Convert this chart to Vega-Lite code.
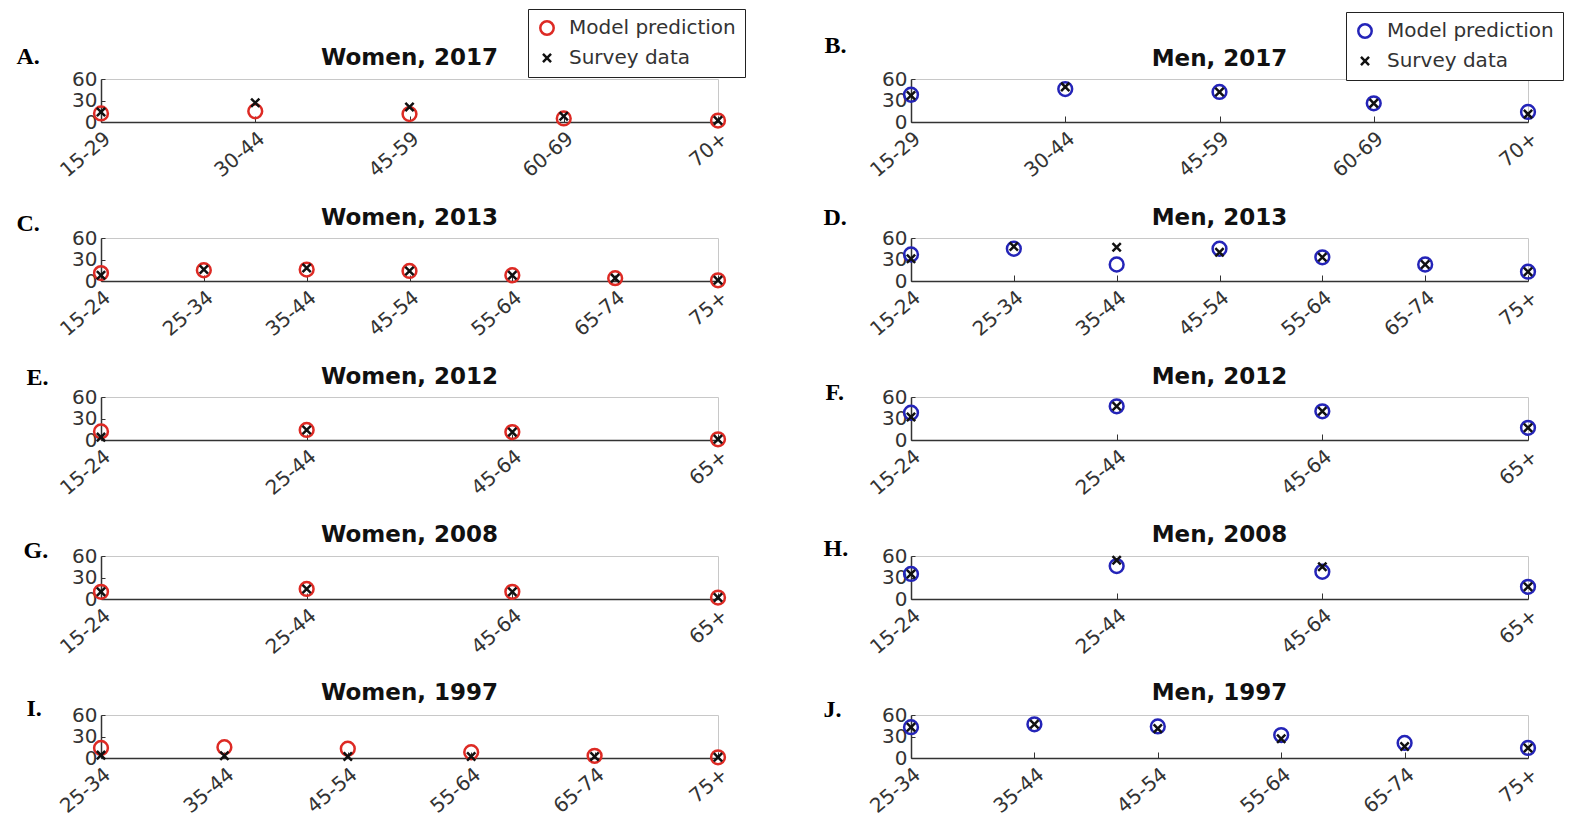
{
  "$schema": "https://vega.github.io/schema/vega-lite/v6.json",
  "padding": {"left": 15, "top": 8, "right": 5, "bottom": 5},
  "background": "white",
  "config": {
    "view": {"stroke": "#c8c8c8"},
    "font": "DejaVu Sans",
    "title": {"font": "DejaVu Sans", "fontSize": 23, "fontWeight": "bold", "color": "#111", "offset": 8},
    "axis": {
      "labelFont": "DejaVu Sans",
      "labelColor": "#333",
      "domainColor": "#333",
      "domainWidth": 1.5,
      "tickColor": "#333",
      "grid": false
    },
    "axisX": {"labelAngle": -40, "labelFontSize": 20, "labelAlign": "right", "labelBaseline": "top", "tickSize": -6, "labelPadding": 12, "labelOverlap": false},
    "axisY": {
      "labelFontSize": 20,
      "labelOverlap": false,
      "tickSize": -4,
      "labelPadding": 8,
      "titleFont": "Liberation Serif",
      "titleFontSize": 24,
      "titleFontWeight": "bold",
      "titleColor": "black",
      "titleAngle": 0,
      "titleAlign": "left",
      "titleBaseline": "middle"
    },
    "legend": {
      "labelFont": "DejaVu Sans",
      "labelFontSize": 20,
      "labelColor": "#333",
      "labelLimit": 300,
      "strokeColor": "#222",
      "fillColor": "white",
      "padding": 9,
      "rowPadding": 8,
      "symbolStrokeWidth": 2.5,
      "symbolSize": 180,
      "symbolOpacity": 1,
      "labelOffset": 12
    },
    "point": {"filled": false, "strokeWidth": 2.5, "size": 190, "opacity": 1}
  },
  "datasets": {
    "pts": [
      {"panel": "A", "age": "15-29", "series": "Model prediction", "value": 12},
      {"panel": "A", "age": "30-44", "series": "Model prediction", "value": 15},
      {"panel": "A", "age": "45-59", "series": "Model prediction", "value": 11},
      {"panel": "A", "age": "60-69", "series": "Model prediction", "value": 5},
      {"panel": "A", "age": "70+", "series": "Model prediction", "value": 2},
      {"panel": "A", "age": "15-29", "series": "Survey data", "value": 14},
      {"panel": "A", "age": "30-44", "series": "Survey data", "value": 27},
      {"panel": "A", "age": "45-59", "series": "Survey data", "value": 21},
      {"panel": "A", "age": "60-69", "series": "Survey data", "value": 8},
      {"panel": "A", "age": "70+", "series": "Survey data", "value": 2},

      {"panel": "B", "age": "15-29", "series": "Model prediction", "value": 38},
      {"panel": "B", "age": "30-44", "series": "Model prediction", "value": 46},
      {"panel": "B", "age": "45-59", "series": "Model prediction", "value": 42},
      {"panel": "B", "age": "60-69", "series": "Model prediction", "value": 26},
      {"panel": "B", "age": "70+", "series": "Model prediction", "value": 14},
      {"panel": "B", "age": "15-29", "series": "Survey data", "value": 37},
      {"panel": "B", "age": "30-44", "series": "Survey data", "value": 49},
      {"panel": "B", "age": "45-59", "series": "Survey data", "value": 42},
      {"panel": "B", "age": "60-69", "series": "Survey data", "value": 26},
      {"panel": "B", "age": "70+", "series": "Survey data", "value": 11},

      {"panel": "C", "age": "15-24", "series": "Model prediction", "value": 11},
      {"panel": "C", "age": "25-34", "series": "Model prediction", "value": 15},
      {"panel": "C", "age": "35-44", "series": "Model prediction", "value": 16},
      {"panel": "C", "age": "45-54", "series": "Model prediction", "value": 14},
      {"panel": "C", "age": "55-64", "series": "Model prediction", "value": 8},
      {"panel": "C", "age": "65-74", "series": "Model prediction", "value": 4},
      {"panel": "C", "age": "75+", "series": "Model prediction", "value": 1},
      {"panel": "C", "age": "15-24", "series": "Survey data", "value": 8},
      {"panel": "C", "age": "25-34", "series": "Survey data", "value": 16},
      {"panel": "C", "age": "35-44", "series": "Survey data", "value": 18},
      {"panel": "C", "age": "45-54", "series": "Survey data", "value": 14},
      {"panel": "C", "age": "55-64", "series": "Survey data", "value": 8},
      {"panel": "C", "age": "65-74", "series": "Survey data", "value": 4},
      {"panel": "C", "age": "75+", "series": "Survey data", "value": 1},

      {"panel": "D", "age": "15-24", "series": "Model prediction", "value": 37},
      {"panel": "D", "age": "25-34", "series": "Model prediction", "value": 45},
      {"panel": "D", "age": "35-44", "series": "Model prediction", "value": 23},
      {"panel": "D", "age": "45-54", "series": "Model prediction", "value": 45},
      {"panel": "D", "age": "55-64", "series": "Model prediction", "value": 33},
      {"panel": "D", "age": "65-74", "series": "Model prediction", "value": 23},
      {"panel": "D", "age": "75+", "series": "Model prediction", "value": 13},
      {"panel": "D", "age": "15-24", "series": "Survey data", "value": 31},
      {"panel": "D", "age": "25-34", "series": "Survey data", "value": 48},
      {"panel": "D", "age": "35-44", "series": "Survey data", "value": 47},
      {"panel": "D", "age": "45-54", "series": "Survey data", "value": 40},
      {"panel": "D", "age": "55-64", "series": "Survey data", "value": 33},
      {"panel": "D", "age": "65-74", "series": "Survey data", "value": 23},
      {"panel": "D", "age": "75+", "series": "Survey data", "value": 13},

      {"panel": "E", "age": "15-24", "series": "Model prediction", "value": 12},
      {"panel": "E", "age": "25-44", "series": "Model prediction", "value": 14},
      {"panel": "E", "age": "45-64", "series": "Model prediction", "value": 11},
      {"panel": "E", "age": "65+", "series": "Model prediction", "value": 1},
      {"panel": "E", "age": "15-24", "series": "Survey data", "value": 4},
      {"panel": "E", "age": "25-44", "series": "Survey data", "value": 14},
      {"panel": "E", "age": "45-64", "series": "Survey data", "value": 11},
      {"panel": "E", "age": "65+", "series": "Survey data", "value": 1},

      {"panel": "F", "age": "15-24", "series": "Model prediction", "value": 38},
      {"panel": "F", "age": "25-44", "series": "Model prediction", "value": 47},
      {"panel": "F", "age": "45-64", "series": "Model prediction", "value": 40},
      {"panel": "F", "age": "65+", "series": "Model prediction", "value": 17},
      {"panel": "F", "age": "15-24", "series": "Survey data", "value": 32},
      {"panel": "F", "age": "25-44", "series": "Survey data", "value": 47},
      {"panel": "F", "age": "45-64", "series": "Survey data", "value": 40},
      {"panel": "F", "age": "65+", "series": "Survey data", "value": 17},

      {"panel": "G", "age": "15-24", "series": "Model prediction", "value": 10},
      {"panel": "G", "age": "25-44", "series": "Model prediction", "value": 14},
      {"panel": "G", "age": "45-64", "series": "Model prediction", "value": 10},
      {"panel": "G", "age": "65+", "series": "Model prediction", "value": 2},
      {"panel": "G", "age": "15-24", "series": "Survey data", "value": 10},
      {"panel": "G", "age": "25-44", "series": "Survey data", "value": 14},
      {"panel": "G", "age": "45-64", "series": "Survey data", "value": 10},
      {"panel": "G", "age": "65+", "series": "Survey data", "value": 2},

      {"panel": "H", "age": "15-24", "series": "Model prediction", "value": 35},
      {"panel": "H", "age": "25-44", "series": "Model prediction", "value": 46},
      {"panel": "H", "age": "45-64", "series": "Model prediction", "value": 38},
      {"panel": "H", "age": "65+", "series": "Model prediction", "value": 17},
      {"panel": "H", "age": "15-24", "series": "Survey data", "value": 35},
      {"panel": "H", "age": "25-44", "series": "Survey data", "value": 54},
      {"panel": "H", "age": "45-64", "series": "Survey data", "value": 45},
      {"panel": "H", "age": "65+", "series": "Survey data", "value": 17},

      {"panel": "I", "age": "25-34", "series": "Model prediction", "value": 14},
      {"panel": "I", "age": "35-44", "series": "Model prediction", "value": 15},
      {"panel": "I", "age": "45-54", "series": "Model prediction", "value": 13},
      {"panel": "I", "age": "55-64", "series": "Model prediction", "value": 8},
      {"panel": "I", "age": "65-74", "series": "Model prediction", "value": 3},
      {"panel": "I", "age": "75+", "series": "Model prediction", "value": 1},
      {"panel": "I", "age": "25-34", "series": "Survey data", "value": 4},
      {"panel": "I", "age": "35-44", "series": "Survey data", "value": 3},
      {"panel": "I", "age": "45-54", "series": "Survey data", "value": 2},
      {"panel": "I", "age": "55-64", "series": "Survey data", "value": 2},
      {"panel": "I", "age": "65-74", "series": "Survey data", "value": 2},
      {"panel": "I", "age": "75+", "series": "Survey data", "value": 1},

      {"panel": "J", "age": "25-34", "series": "Model prediction", "value": 43},
      {"panel": "J", "age": "35-44", "series": "Model prediction", "value": 47},
      {"panel": "J", "age": "45-54", "series": "Model prediction", "value": 44},
      {"panel": "J", "age": "55-64", "series": "Model prediction", "value": 32},
      {"panel": "J", "age": "65-74", "series": "Model prediction", "value": 21},
      {"panel": "J", "age": "75+", "series": "Model prediction", "value": 14},
      {"panel": "J", "age": "25-34", "series": "Survey data", "value": 43},
      {"panel": "J", "age": "35-44", "series": "Survey data", "value": 47},
      {"panel": "J", "age": "45-54", "series": "Survey data", "value": 41},
      {"panel": "J", "age": "55-64", "series": "Survey data", "value": 27},
      {"panel": "J", "age": "65-74", "series": "Survey data", "value": 16},
      {"panel": "J", "age": "75+", "series": "Survey data", "value": 14}
    ]
  },
  "data": {"name": "pts"},
  "columns": 2,
  "spacing": {"row": 116, "column": 193},
  "bounds": "flush",
  "resolve": {
    "scale": {"x": "independent", "y": "independent", "color": "independent", "shape": "independent"},
    "legend": {"color": "independent", "shape": "independent"}
  },
  "concat": [
    {
      "title": {"text": "Women, 2017", "dy": 69},
      "width": 617, "height": 43,
      "transform": [{"filter": "datum.panel == 'A'"}],
      "mark": "point",
      "encoding": {
        "x": {"field": "age", "type": "nominal", "scale": {"type": "point", "padding": 0}, "axis": {"title": null}},
        "y": {"field": "value", "type": "quantitative", "scale": {"domain": [0, 60], "nice": false}, "axis": {"values": [0, 30, 60], "title": "A.", "titleX": -85, "titleY": -23}},
        "color": {"field": "series", "type": "nominal", "scale": {"domain": ["Model prediction", "Survey data"], "range": ["#dd2a24", "#111111"]}, "legend": {"title": null, "orient": "none", "legendX": 427, "legendY": -70}},
        "shape": {"field": "series", "type": "nominal", "scale": {"domain": ["Model prediction", "Survey data"], "range": ["circle", "M-0.6,-0.6L0.6,0.6M-0.6,0.6L0.6,-0.6"]}, "legend": {"title": null, "orient": "none", "legendX": 427, "legendY": -70}}
      }
    },
    {
      "title": {"text": "Men, 2017", "dy": 67},
      "width": 617, "height": 43,
      "transform": [{"filter": "datum.panel == 'B'"}],
      "mark": "point",
      "encoding": {
        "x": {"field": "age", "type": "nominal", "scale": {"type": "point", "padding": 0}, "axis": {"title": null}},
        "y": {"field": "value", "type": "quantitative", "scale": {"domain": [0, 60], "nice": false}, "axis": {"values": [0, 30, 60], "title": "B.", "titleX": -87, "titleY": -34}},
        "color": {"field": "series", "type": "nominal", "scale": {"domain": ["Model prediction", "Survey data"], "range": ["#2424b8", "#111111"]}, "legend": {"title": null, "orient": "none", "legendX": 435, "legendY": -67}},
        "shape": {"field": "series", "type": "nominal", "scale": {"domain": ["Model prediction", "Survey data"], "range": ["circle", "M-0.6,-0.6L0.6,0.6M-0.6,0.6L0.6,-0.6"]}, "legend": {"title": null, "orient": "none", "legendX": 435, "legendY": -67}}
      }
    },
    {
      "title": {"text": "Women, 2013", "dy": 27},
      "width": 617, "height": 43,
      "transform": [{"filter": "datum.panel == 'C'"}],
      "mark": "point",
      "encoding": {
        "x": {"field": "age", "type": "nominal", "scale": {"type": "point", "padding": 0}, "axis": {"title": null}},
        "y": {"field": "value", "type": "quantitative", "scale": {"domain": [0, 60], "nice": false}, "axis": {"values": [0, 30, 60], "title": "C.", "titleX": -85, "titleY": -15}},
        "color": {"field": "series", "type": "nominal", "scale": {"domain": ["Model prediction", "Survey data"], "range": ["#dd2a24", "#111111"]}, "legend": null},
        "shape": {"field": "series", "type": "nominal", "scale": {"domain": ["Model prediction", "Survey data"], "range": ["circle", "M-0.6,-0.6L0.6,0.6M-0.6,0.6L0.6,-0.6"]}, "legend": null}
      }
    },
    {
      "title": {"text": "Men, 2013", "dy": 33},
      "width": 617, "height": 43,
      "transform": [{"filter": "datum.panel == 'D'"}],
      "mark": "point",
      "encoding": {
        "x": {"field": "age", "type": "nominal", "scale": {"type": "point", "padding": 0}, "axis": {"title": null}},
        "y": {"field": "value", "type": "quantitative", "scale": {"domain": [0, 60], "nice": false}, "axis": {"values": [0, 30, 60], "title": "D.", "titleX": -88, "titleY": -21}},
        "color": {"field": "series", "type": "nominal", "scale": {"domain": ["Model prediction", "Survey data"], "range": ["#2424b8", "#111111"]}, "legend": null},
        "shape": {"field": "series", "type": "nominal", "scale": {"domain": ["Model prediction", "Survey data"], "range": ["circle", "M-0.6,-0.6L0.6,0.6M-0.6,0.6L0.6,-0.6"]}, "legend": null}
      }
    },
    {
      "title": {"text": "Women, 2012", "dy": 32},
      "width": 617, "height": 43,
      "transform": [{"filter": "datum.panel == 'E'"}],
      "mark": "point",
      "encoding": {
        "x": {"field": "age", "type": "nominal", "scale": {"type": "point", "padding": 0}, "axis": {"title": null}},
        "y": {"field": "value", "type": "quantitative", "scale": {"domain": [0, 60], "nice": false}, "axis": {"values": [0, 30, 60], "title": "E.", "titleX": -75, "titleY": -20}},
        "color": {"field": "series", "type": "nominal", "scale": {"domain": ["Model prediction", "Survey data"], "range": ["#dd2a24", "#111111"]}, "legend": null},
        "shape": {"field": "series", "type": "nominal", "scale": {"domain": ["Model prediction", "Survey data"], "range": ["circle", "M-0.6,-0.6L0.6,0.6M-0.6,0.6L0.6,-0.6"]}, "legend": null}
      }
    },
    {
      "title": {"text": "Men, 2012", "dy": 17},
      "width": 617, "height": 43,
      "transform": [{"filter": "datum.panel == 'F'"}],
      "mark": "point",
      "encoding": {
        "x": {"field": "age", "type": "nominal", "scale": {"type": "point", "padding": 0}, "axis": {"title": null}},
        "y": {"field": "value", "type": "quantitative", "scale": {"domain": [0, 60], "nice": false}, "axis": {"values": [0, 30, 60], "title": "F.", "titleX": -86, "titleY": -5}},
        "color": {"field": "series", "type": "nominal", "scale": {"domain": ["Model prediction", "Survey data"], "range": ["#2424b8", "#111111"]}, "legend": null},
        "shape": {"field": "series", "type": "nominal", "scale": {"domain": ["Model prediction", "Survey data"], "range": ["circle", "M-0.6,-0.6L0.6,0.6M-0.6,0.6L0.6,-0.6"]}, "legend": null}
      }
    },
    {
      "title": {"text": "Women, 2008", "dy": 17},
      "width": 617, "height": 43,
      "transform": [{"filter": "datum.panel == 'G'"}],
      "mark": "point",
      "encoding": {
        "x": {"field": "age", "type": "nominal", "scale": {"type": "point", "padding": 0}, "axis": {"title": null}},
        "y": {"field": "value", "type": "quantitative", "scale": {"domain": [0, 60], "nice": false}, "axis": {"values": [0, 30, 60], "title": "G.", "titleX": -78, "titleY": -6}},
        "color": {"field": "series", "type": "nominal", "scale": {"domain": ["Model prediction", "Survey data"], "range": ["#dd2a24", "#111111"]}, "legend": null},
        "shape": {"field": "series", "type": "nominal", "scale": {"domain": ["Model prediction", "Survey data"], "range": ["circle", "M-0.6,-0.6L0.6,0.6M-0.6,0.6L0.6,-0.6"]}, "legend": null}
      }
    },
    {
      "title": {"text": "Men, 2008", "dy": 19},
      "width": 617, "height": 43,
      "transform": [{"filter": "datum.panel == 'H'"}],
      "mark": "point",
      "encoding": {
        "x": {"field": "age", "type": "nominal", "scale": {"type": "point", "padding": 0}, "axis": {"title": null}},
        "y": {"field": "value", "type": "quantitative", "scale": {"domain": [0, 60], "nice": false}, "axis": {"values": [0, 30, 60], "title": "H.", "titleX": -88, "titleY": -8}},
        "color": {"field": "series", "type": "nominal", "scale": {"domain": ["Model prediction", "Survey data"], "range": ["#2424b8", "#111111"]}, "legend": null},
        "shape": {"field": "series", "type": "nominal", "scale": {"domain": ["Model prediction", "Survey data"], "range": ["circle", "M-0.6,-0.6L0.6,0.6M-0.6,0.6L0.6,-0.6"]}, "legend": null}
      }
    },
    {
      "title": {"text": "Women, 1997", "dy": 17},
      "width": 617, "height": 43,
      "transform": [{"filter": "datum.panel == 'I'"}],
      "mark": "point",
      "encoding": {
        "x": {"field": "age", "type": "nominal", "scale": {"type": "point", "padding": 0}, "axis": {"title": null}},
        "y": {"field": "value", "type": "quantitative", "scale": {"domain": [0, 60], "nice": false}, "axis": {"values": [0, 30, 60], "title": "I.", "titleX": -75, "titleY": -7}},
        "color": {"field": "series", "type": "nominal", "scale": {"domain": ["Model prediction", "Survey data"], "range": ["#dd2a24", "#111111"]}, "legend": null},
        "shape": {"field": "series", "type": "nominal", "scale": {"domain": ["Model prediction", "Survey data"], "range": ["circle", "M-0.6,-0.6L0.6,0.6M-0.6,0.6L0.6,-0.6"]}, "legend": null}
      }
    },
    {
      "title": {"text": "Men, 1997", "dy": 16},
      "width": 617, "height": 43,
      "transform": [{"filter": "datum.panel == 'J'"}],
      "mark": "point",
      "encoding": {
        "x": {"field": "age", "type": "nominal", "scale": {"type": "point", "padding": 0}, "axis": {"title": null}},
        "y": {"field": "value", "type": "quantitative", "scale": {"domain": [0, 60], "nice": false}, "axis": {"values": [0, 30, 60], "title": "J.", "titleX": -88, "titleY": -6}},
        "color": {"field": "series", "type": "nominal", "scale": {"domain": ["Model prediction", "Survey data"], "range": ["#2424b8", "#111111"]}, "legend": null},
        "shape": {"field": "series", "type": "nominal", "scale": {"domain": ["Model prediction", "Survey data"], "range": ["circle", "M-0.6,-0.6L0.6,0.6M-0.6,0.6L0.6,-0.6"]}, "legend": null}
      }
    }
  ]
}
